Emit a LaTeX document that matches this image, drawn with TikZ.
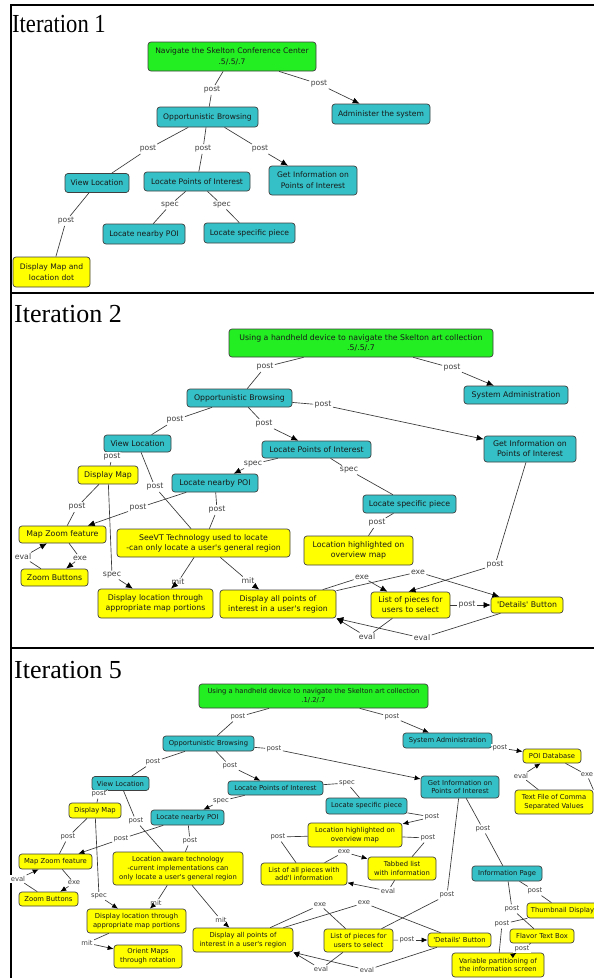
\documentclass[tikz,border=0pt]{standalone}
\usepackage{fontspec}
\newfontfamily\vf{DejaVu Sans}
\newfontfamily\tf{Liberation Serif}
\usetikzlibrary{arrows.meta}
\definecolor{cyanc}{RGB}{52,192,198}
\definecolor{greenc}{RGB}{34,238,34}
\definecolor{yellowc}{RGB}{255,255,0}
\definecolor{edgec}{RGB}{55,55,55}
\begin{document}
\begin{tikzpicture}[x=1pt,y=-1pt,
  box/.style={draw=black!75, line width=0.7pt, rounded corners=3pt, align=center, inner sep=1pt, text=black!90},
  cn/.style={box, fill=cyanc},
  yn/.style={box, fill=yellowc},
  gn/.style={box, fill=greenc},
  sz/.style 2 args={minimum width=#1pt, minimum height=#2pt},
  lbl/.style={inner sep=1.3pt, text=black!75, fill=white},
  con/.style={draw=edgec, line width=0.65pt},
  arr/.style={con, -{Latex[length=7pt,width=6pt,color=black]}},
  arrs/.style={con, -{Latex[length=6pt,width=5pt,color=black]}},
  ttl/.style={anchor=base west, inner sep=0pt, font=\tf\fontsize{26}{26}\selectfont}
]
\useasboundingbox (0,0) rectangle (594,978);
\clip (0,0) rectangle (594,978);
\fill[white] (0,0) rectangle (594,978);
% frame
\draw[line width=2pt] (11,5) -- (596,5);
\draw[line width=2pt] (11,4) -- (11,980);
\draw[line width=2pt] (11,293) -- (596,293);
\draw[line width=2pt] (11,648) -- (596,648);

\node[ttl, xscale=0.87] (t1) at (12,32) {Iteration 1};
\node[ttl] (t2) at (14,322) {Iteration 2};
\node[ttl] (t5) at (14,678) {Iteration 5};

%================ Iteration 1
\begin{scope}[font=\vf\fontsize{7.6}{10.8}\selectfont]
\node[gn, sz={168}{29}] (r1) at (232,56.5) {Navigate the Skelton Conference Center\\.5/.5/.7};
\node[cn, sz={101}{20}] (ob1) at (207.5,117) {Opportunistic Browsing};
\node[cn, sz={98}{20}] (adm1) at (381,114) {Administer the system};
\node[cn, sz={64}{19}] (vl1) at (97,183) {View Location};
\node[cn, sz={106}{19}] (lpi1) at (197,181.5) {Locate Points of Interest};
\node[cn, sz={88}{29}] (gi1) at (313,180.5) {Get Information on\\Points of Interest};
\node[cn, sz={82}{20}] (np1) at (144,234) {Locate nearby POI};
\node[cn, sz={91}{20}] (sp1) at (249.5,233) {Locate specific piece};
\node[yn, sz={77}{30}] (dm1) at (51.5,272) {Display Map and\\location dot};

\node[lbl] (l1a) at (212,90) {post};
\node[lbl] (l1b) at (319,84) {post};
\node[lbl] (l1c) at (148,149) {post};
\node[lbl] (l1d) at (203,149) {post};
\node[lbl] (l1e) at (260,149) {post};
\node[lbl] (l1f) at (170,205) {spec};
\node[lbl] (l1g) at (222,205) {spec};
\node[lbl] (l1h) at (66,221) {post};

\draw[con] (r1) -- (l1a); \draw[con] (l1a) -- (ob1);
\draw[con] (r1) -- (l1b); \draw[arr] (l1b) -- (adm1);
\draw[con] (ob1) -- (l1c); \draw[con] (l1c) -- (vl1);
\draw[con] (ob1) -- (l1d); \draw[con] (l1d) -- (lpi1);
\draw[con] (ob1) -- (l1e); \draw[arr] (l1e) -- (gi1);
\draw[con] (lpi1) -- (l1f); \draw[con] (l1f) -- (np1);
\draw[con] (lpi1) -- (l1g); \draw[con] (l1g) -- (sp1);
\draw[con] (vl1) -- (l1h); \draw[con] (l1h) -- (dm1);
\end{scope}

%================ Iteration 2
\begin{scope}[font=\vf\fontsize{7.8}{10}\selectfont]
\node[gn, sz={264}{28}] (r2) at (361,343) {Using a handheld device to navigate the Skelton art collection\\.5/.5/.7};
\node[cn, sz={105}{18}] (ob2) at (239.5,398) {Opportunistic Browsing};
\node[cn, sz={104}{18}] (sa2) at (516,395) {System Administration};
\node[cn, sz={67}{17}] (vl2) at (137.5,443.5) {View Location};
\node[cn, sz={109}{17}] (lpi2) at (316.5,449.5) {Locate Points of Interest};
\node[cn, sz={92}{26}] (gi2) at (530,449) {Get Information on\\Points of Interest};
\node[yn, sz={60}{18}] (dm2) at (108,475) {Display Map};
\node[cn, sz={86}{18}] (np2) at (215,483) {Locate nearby POI};
\node[cn, sz={93}{18}] (sp2) at (409.5,504) {Locate specific piece};
\node[yn, sz={109}{29}] (lh2) at (358.5,550.5) {Location highlighted on\\overview map};
\node[yn, sz={87}{17}] (mz2) at (62.5,534.5) {Map Zoom feature};
\node[yn, sz={173}{28}] (st2) at (203.5,543) {SeeVT Technology used to locate\\-can only locate a user's general region};
\node[yn, sz={67}{17}] (zb2) at (54.5,577.5) {Zoom Buttons};
\node[yn, sz={115}{29}] (dl2) at (155.5,603.5) {Display location through\\appropriate map portions};
\node[yn, sz={116}{28}] (da2) at (278,604) {Display all points of\\interest in a user's region};
\node[yn, sz={79}{26}] (lp2) at (410.5,605) {List of pieces for\\users to select};
\node[yn, sz={72}{16}] (db2) at (527,605) {'Details' Button};

\node[lbl] (l2a) at (265,367) {post};
\node[lbl] (l2b) at (452,368) {post};
\node[lbl] (l2c) at (323,405) {post};
\node[lbl] (l2d) at (264,424) {post};
\node[lbl] (l2e) at (175,420) {post};
\node[lbl] (l2f) at (112,457) {post};
\node[lbl] (l2g) at (155,487) {post};
\node[lbl] (l2h) at (253,464) {spec};
\node[lbl] (l2i) at (349,470) {spec};
\node[lbl] (l2j) at (77,507) {post};
\node[lbl] (l2k) at (138,508) {post};
\node[lbl] (l2l) at (217,510) {post};
\node[lbl] (l2m) at (112,575) {spec};
\node[lbl] (l2n) at (178,582) {mit};
\node[lbl] (l2o) at (248,581) {mit};
\node[lbl] (l2p) at (80,558) {exe};
\node[lbl] (l2q) at (23,557) {eval};
\node[lbl] (l2r) at (377,523) {post};
\node[lbl] (l2s) at (495,565) {post};
\node[lbl] (l2t) at (362,577) {exe};
\node[lbl] (l2u) at (418,572) {exe};
\node[lbl] (l2v) at (467,605) {post};
\node[lbl] (l2w) at (367,637) {eval};
\node[lbl] (l2x) at (422,638) {eval};

\draw[con] (r2) -- (l2a); \draw[con] (l2a) -- (ob2);
\draw[con] (r2) -- (l2b); \draw[arr] (l2b) -- (sa2);
\draw[con] (ob2) -- (l2c); \draw[arr] (l2c) -- (gi2);
\draw[con] (ob2) -- (l2d); \draw[arr] (l2d) -- (lpi2);
\draw[con] (ob2) -- (l2e); \draw[con] (l2e) -- (vl2);
\draw[con] (vl2) -- (l2f); \draw[con] (l2f) -- (dm2);
\draw[con] (vl2) -- (l2g); \draw[con] (l2g) -- (st2);
\draw[con] (lpi2) -- (l2h); \draw[arr] (l2h) -- (np2);
\draw[con] (lpi2) -- (l2i); \draw[con] (l2i) -- (sp2);
\draw[con] (dm2) -- (l2j); \draw[con] (l2j) -- (mz2);
\draw[con] (np2) -- (l2k); \draw[arr] (l2k) -- (mz2);
\draw[con] (np2) -- (l2l); \draw[con] (l2l) -- (st2);
\draw[con] (dm2) -- (l2m); \draw[arr] (l2m) -- (dl2);
\draw[con] (st2) -- (l2n); \draw[arr] (l2n) -- (dl2);
\draw[con] (st2) -- (l2o); \draw[arr] (l2o) -- (da2);
\draw[con] (mz2) -- (l2p); \draw[arr] (l2p) -- (zb2);
\draw[con] (zb2) -- (l2q); \draw[arr] (l2q) -- (mz2);
\draw[con] (sp2) -- (l2r); \draw[con] (l2r) -- (lh2);
\draw[con] (gi2) -- (l2s); \draw[arr] (l2s) -- ([xshift=-2pt]lp2.north);
\draw[con] (da2) -- (l2t); \draw[arr] (l2t) -- (lp2);
\draw[con] (da2) -- (l2u); \draw[arr] (l2u) -- (db2);
\draw[con] (lp2) -- (l2v); \draw[arr] (l2v) -- (db2);
\draw[con] (lp2) -- (l2w); \draw[arr] (l2w) -- (da2.south east);
\draw[con] (db2) -- (l2x); \draw[arr] (l2x) -- (da2.south east);
\end{scope}

%================ Iteration 5
\begin{scope}[font=\vf\fontsize{6.8}{8.8}\selectfont]
\node[gn, sz={229}{24}] (r5) at (313.5,696) {Using a handheld device to navigate the Skelton art collection\\.1/.2/.7};
\node[cn, sz={91}{15}] (ob5) at (208.5,743.5) {Opportunistic Browsing};
\node[cn, sz={89}{15}] (sa5) at (447.5,740.5) {System Administration};
\node[yn, sz={58}{14}] (pd5) at (552,756) {POI Database};
\node[yn, sz={78}{24}] (tf5) at (554,802) {Text File of Comma\\Separated Values};
\node[cn, sz={57}{14}] (vl5) at (120.5,783.5) {View Location};
\node[cn, sz={95}{14}] (lpi5) at (275.5,788) {Locate Points of Interest};
\node[cn, sz={78}{22}] (gi5) at (460,787) {Get Information on\\Points of Interest};
\node[cn, sz={81}{16}] (sp5) at (366.5,806) {Locate specific piece};
\node[yn, sz={52}{15}] (dm5) at (95,810.5) {Display Map};
\node[cn, sz={73}{15}] (np5) at (187.5,817.5) {Locate nearby POI};
\node[yn, sz={73}{15}] (mz5) at (55.5,861.5) {Map Zoom feature};
\node[yn, sz={130}{33}] (la5) at (178,868.5) {Location aware technology\\-current implementations can\\only locate a user's general region};
\node[yn, sz={59}{14}] (zb5) at (48.5,899) {Zoom Buttons};
\node[yn, sz={99}{24}] (dl5) at (136.5,921) {Display location through\\appropriate map portions};
\node[yn, sz={68}{23}] (om5) at (148,956.5) {Orient Maps\\through rotation};
\node[yn, sz={100}{24}] (da5) at (243,940) {Display all points of\\interest in a user's region};
\node[yn, sz={94}{24}] (lh5) at (355,835) {Location highlighted on\\overview map};
\node[yn, sz={86}{22}] (al5) at (304,874) {List of all pieces with\\add'l information};
\node[yn, sz={68}{23}] (tl5) at (402,868.5) {Tabbed list\\with information};
\node[yn, sz={69}{23}] (lp5) at (358.5,940.5) {List of pieces for\\users to select};
\node[yn, sz={63}{14}] (db5) at (459.5,940) {'Details' Button};
\node[cn, sz={70}{15}] (ip5) at (507,873.5) {Information Page};
\node[yn, sz={71}{15}] (td5) at (562.5,910.5) {Thumbnail Display};
\node[yn, sz={64}{14}] (ft5) at (542,936) {Flavor Text Box};
\node[yn, sz={92}{24}] (vp5) at (498,965) {Variable partitioning of\\the information screen};

\node[lbl] (l5a) at (238,717) {post};
\node[lbl] (l5b) at (392,717) {post};
\node[lbl] (l5c) at (500,748) {post};
\node[lbl] (l5d) at (587,775) {exe};
\node[lbl] (l5e) at (521,776) {eval};
\node[lbl] (l5f) at (274,749) {post};
\node[lbl] (l5g) at (230,766) {post};
\node[lbl] (l5h) at (153,762) {post};
\node[lbl] (l5i) at (347,783) {spec};
\node[lbl] (l5j) at (221,801) {spec};
\node[lbl] (l5k) at (99,794) {post};
\node[lbl] (l5l) at (136,821) {post};
\node[lbl] (l5m) at (68,837) {post};
\node[lbl] (l5n) at (121,839) {post};
\node[lbl] (l5o) at (190,841) {post};
\node[lbl] (l5p) at (74,883) {exe};
\node[lbl] (l5q) at (18,879) {eval};
\node[lbl] (l5r) at (99,896) {spec};
\node[lbl] (l5s) at (156,903) {mit};
\node[lbl] (l5t) at (221,920) {mit};
\node[lbl] (l5u) at (87,943) {mit};
\node[lbl] (l5v) at (432,817) {post};
\node[lbl] (l5w) at (428,838) {post};
\node[lbl] (l5x) at (278,837) {post};
\node[lbl] (l5y) at (344,852) {exe};
\node[lbl] (l5z) at (388,891) {eval};
\node[lbl] (l5A) at (407,940) {post};
\node[lbl] (l5B) at (320,905) {exe};
\node[lbl] (l5C) at (364,903) {exe};
\node[lbl] (l5D) at (447,895) {post};
\node[lbl] (l5E) at (321,969) {eval};
\node[lbl] (l5F) at (367,970) {eval};
\node[lbl] (l5G) at (483,829) {post};
\node[lbl] (l5H) at (535,891) {post};
\node[lbl] (l5I) at (512,909) {post};
\node[lbl] (l5J) at (502,924) {post};
\node[lbl] (l5K) at (522,949) {post};

\draw[con] (r5) -- (l5a); \draw[con] (l5a) -- (ob5);
\draw[con] (r5) -- (l5b); \draw[arrs] (l5b) -- (sa5);
\draw[con] (sa5) -- (l5c); \draw[arrs] (l5c) -- (pd5);
\draw[con] (pd5) -- (l5d); \draw[con] (l5d) -- (tf5.north east);
\draw[con] (tf5) -- (l5e); \draw[arrs] (l5e) -- (pd5);
\draw[con] (ob5) -- (l5f); \draw[arrs] (l5f) -- (gi5);
\draw[con] (ob5) -- (l5g); \draw[arrs] (l5g) -- (lpi5);
\draw[con] (ob5) -- (l5h); \draw[con] (l5h) -- (vl5);
\draw[con] (lpi5) -- (l5i); \draw[con] (l5i) -- (sp5);
\draw[con] (lpi5) -- (l5j); \draw[arrs] (l5j) -- (np5);
\draw[con] (vl5) -- (l5k); \draw[con] (l5k) -- (dm5);
\draw[con] (vl5) -- (l5l); \draw[con] (l5l) -- (la5);
\draw[con] (dm5) -- (l5m); \draw[con] (l5m) -- (mz5);
\draw[con] (np5) -- (l5n); \draw[arrs] (l5n) -- (mz5);
\draw[con] (np5) -- (l5o); \draw[con] (l5o) -- (la5);
\draw[con] (mz5) -- (l5p); \draw[arrs] (l5p) -- (zb5);
\draw[con] (zb5) -- (l5q); \draw[arrs] (l5q) -- (mz5);
\draw[con] (dm5) -- (l5r); \draw[arrs] (l5r) -- (dl5);
\draw[con] (la5) -- (l5s); \draw[arrs] (l5s) -- (dl5);
\draw[con] (la5) -- (l5t); \draw[arrs] (l5t) -- (da5);
\draw[con] (dl5) -- (l5u); \draw[arrs] (l5u) -- (om5);
\draw[con] (sp5) -- (l5v); \draw[arrs] (l5v) -- (lh5);
\draw[con] (lh5) -- (l5w); \draw[con] (l5w) -- (tl5);
\draw[con] (lh5) -- (l5x); \draw[con] (l5x) -- (al5);
\draw[con] (al5) -- (l5y); \draw[arrs] (l5y) -- (tl5);
\draw[con] (tl5) -- (l5z); \draw[arrs] (l5z) -- (al5);
\draw[con] (lp5) -- (l5A); \draw[arrs] (l5A) -- (db5);
\draw[con] (da5) -- (l5B); \draw[con] (l5B) -- (lp5);
\draw[con] (da5) -- (l5C); \draw[con] (l5C) -- (db5);
\draw[con] (gi5) -- (l5D); \draw[con] (l5D) -- (lp5);
\draw[con] (lp5) -- (l5E); \draw[arrs] (l5E) -- (da5.south east);
\draw[con] (db5) -- (l5F); \draw[arrs] (l5F) -- (da5.south east);
\draw[con] (gi5) -- (l5G); \draw[con] (l5G) -- (ip5);
\draw[con] (ip5) -- (l5H); \draw[con] (l5H) -- (td5);
\draw[con] (ip5) -- (l5I); \draw[con] (l5I) -- (ft5);
\draw[con] (td5) -- (l5J); \draw[con] (l5J) -- (vp5);
\draw[con] (ft5) -- (l5K); \draw[arrs] (l5K) -- (vp5);
\end{scope}
\end{tikzpicture}
\end{document}
